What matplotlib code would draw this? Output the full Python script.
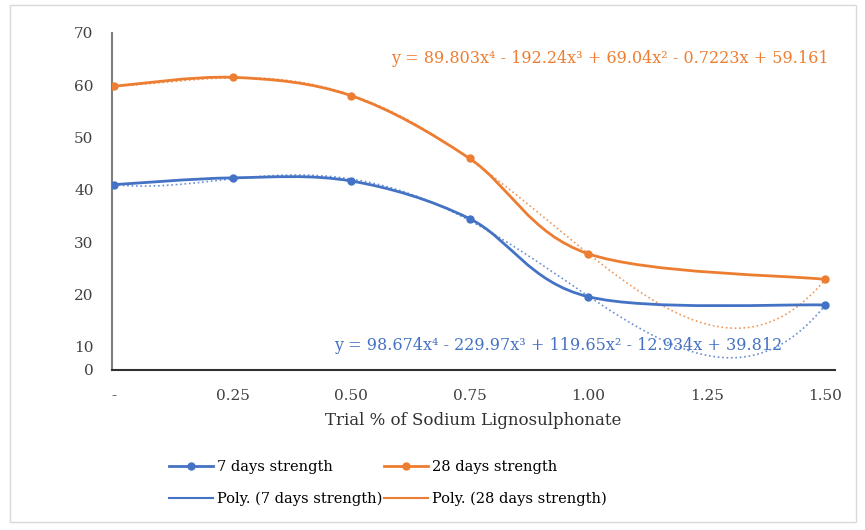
import numpy as np
import matplotlib
matplotlib.use('Agg')
import matplotlib.pyplot as plt
from matplotlib.path import Path
from matplotlib.patches import PathPatch
from matplotlib.lines import Line2D

plt.rcParams['font.family'] = ['DejaVu Serif']

# data
dose = [0.0, 0.25, 0.50, 0.75, 1.00, 1.50]
strength_7 = [41.0, 42.3, 41.7, 34.5, 19.6, 18.0]
strength_28 = [59.8, 61.5, 58.0, 46.0, 27.8, 22.9]
xtick_vals = [0, 0.25, 0.50, 0.75, 1.00, 1.25, 1.50]
xtick_labels = ['-', '0.25', '0.50', '0.75', '1.00', '1.25', '1.50']
ytick_vals = [5.6, 10, 20, 30, 40, 50, 60, 70]
ytick_labels = ['0', '10', '20', '30', '40', '50', '60', '70']
eq_7 = 'y = 98.674x\u2074 - 229.97x\u00b3 + 119.65x\u00b2 - 12.934x + 39.812'
eq_28 = 'y = 89.803x\u2074 - 192.24x\u00b3 + 69.04x\u00b2 - 0.7223x + 59.161'

BLUE = '#4472C4'
ORANGE = '#ED7D31'


def smooth_path(x, y):
    # excel style smoothed line: catmull-rom segments as cubic beziers
    pts = np.column_stack([x, y])
    verts = [pts[0]]
    codes = [Path.MOVETO]
    n = len(pts)
    for i in range(n - 1):
        p0 = pts[max(i - 1, 0)]
        p1 = pts[i]
        p2 = pts[i + 1]
        p3 = pts[min(i + 2, n - 1)]
        c1 = p1 + (p2 - p0) / 6.0
        c2 = p2 - (p3 - p1) / 6.0
        verts += [c1, c2, p2]
        codes += [Path.CURVE4] * 3
    return Path(verts, codes)


fig = plt.figure(figsize=(8.65, 5.3), dpi=100)
ax = fig.add_axes([0.129, 0.302, 0.836, 0.636])

for ys, col in [(strength_7, BLUE), (strength_28, ORANGE)]:
    ax.add_patch(PathPatch(smooth_path(dose, ys), facecolor='none',
                           edgecolor=col, lw=2.0, zorder=3))
    ax.plot(dose, ys, 'o', color=col, ms=5, zorder=4)
    coef = np.polyfit(dose, ys, 4)
    xx = np.linspace(0, 1.5, 200)
    ax.plot(xx, np.polyval(coef, xx), ':', color=col, lw=1.2, alpha=0.8,
            zorder=2)

ax.set_xlim(-0.005, 1.52)
ax.set_ylim(5.6, 70)
ax.set_xticks(xtick_vals)
ax.set_xticklabels(xtick_labels)
ax.set_yticks(ytick_vals)
ax.set_yticklabels(ytick_labels)
ax.tick_params(length=0, labelsize=11, colors='#404040')
ax.tick_params(axis='x', pad=14)
ax.tick_params(axis='y', pad=13)
ax.set_xlabel('Trial % of Sodium Lignosulphonate', fontsize=12,
              color='#303030', labelpad=6)

for s in ['top', 'right']:
    ax.spines[s].set_visible(False)
ax.spines['left'].set_color('#7f7f7f')
ax.spines['left'].set_linewidth(1.5)
ax.spines['bottom'].set_color('#303030')
ax.spines['bottom'].set_linewidth(1.5)

ax.text(0.705, 0.89, eq_28, transform=fig.transFigure, ha='center',
        va='center', fontsize=11.5, color=ORANGE)
ax.text(0.645, 0.349, eq_7, transform=fig.transFigure, ha='center',
        va='center', fontsize=11.5, color=BLUE)

handles = [
    Line2D([], [], color=BLUE, lw=2, marker='o', ms=5),
    Line2D([], [], color=BLUE, lw=1.5),
    Line2D([], [], color=ORANGE, lw=2, marker='o', ms=5),
    Line2D([], [], color=ORANGE, lw=1.5),
]
labels = ['7 days strength', 'Poly. (7 days strength)',
          '28 days strength', 'Poly. (28 days strength)']
fig.legend(handles, labels, ncol=2, loc='center left',
           bbox_to_anchor=(0.18, 0.088), frameon=False, fontsize=10.5,
           handlelength=3, columnspacing=0.1, labelspacing=1.2,
           handletextpad=0.3)

fig.patches.append(plt.Rectangle((0.012, 0.015), 0.978, 0.975,
                                 transform=fig.transFigure, fill=False,
                                 edgecolor='#d9d9d9', lw=1))

fig.savefig('out.png', dpi=100)
